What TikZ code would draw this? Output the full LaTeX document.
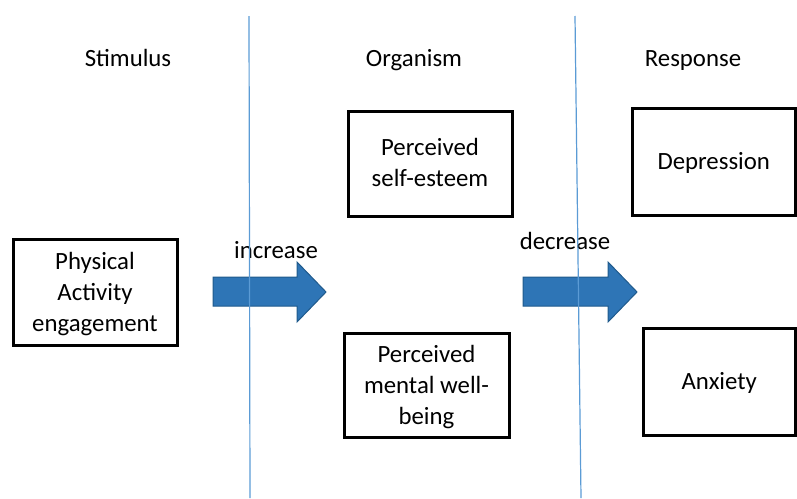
\documentclass[tikz,border=0pt]{standalone}
\usepackage{fontspec}
\setmainfont{Carlito}
\definecolor{lineblue}{HTML}{5B9BD5}
\definecolor{arrowfill}{HTML}{2E75B6}
\definecolor{arrowedge}{HTML}{1F5A8C}
\newcommand{\boxtext}[2][0pt]{\raisebox{-#1}[\height][\depth]{\begin{tabular}{@{}c@{}}#2\end{tabular}}}
\begin{document}
\begin{tikzpicture}[x=1pt,y=-1pt,
  every node/.style={font=\fontsize{24.8}{31}\selectfont, inner sep=0pt},
  box/.style={draw=black, line width=3pt},
  label/.style={anchor=base},
  blockarrow/.style={fill=arrowfill, draw=arrowedge, line width=1pt},
  divider/.style={draw=lineblue, line width=1.2pt}]
\useasboundingbox (0,0) rectangle (797,498);
% headers
\node[label] (stim) at (128,66.5) {Stimulus};
\node[label] (org) at (414,66.5) {Organism};
\node[label] (resp) at (693,66.5) {Response};
% boxes
\node[box, minimum width=164pt, minimum height=106pt] (pa) at (95,292) {\boxtext[2pt]{Physical\\Activity\\engagement}};
\node[box, minimum width=164pt, minimum height=105pt] (se) at (430,163.5) {\boxtext[1pt]{Perceived\\self-esteem}};
\node[box, minimum width=165pt, minimum height=104pt] (mw) at (426.5,385) {\boxtext[2.5pt]{Perceived\\mental well-\\being}};
\node[box, minimum width=163.5pt, minimum height=107pt] (dep) at (713.75,161.5) {\boxtext[1.5pt]{Depression}};
\node[box, minimum width=152.5pt, minimum height=107pt] (anx) at (719.25,381.5) {\boxtext[1.5pt]{Anxiety}};
% arrows
\draw[blockarrow] (213,277) -- (297,277) -- (297,262) -- (326,292) -- (297,322) -- (297,306) -- (213,306) -- cycle;
\draw[blockarrow] (523,277) -- (608,277) -- (608,262) -- (637,292) -- (608,322) -- (608,306) -- (523,306) -- cycle;
\node[label] (inc) at (276,258.5) {increase};
\node[label] (dec) at (565,249.5) {decrease};
% dividers
\coordinate (d1t) at (249,16);
\coordinate (d1b) at (250,498);
\coordinate (d2t) at (575,16);
\coordinate (d2b) at (581,498);
\draw[divider] (d1t) -- (d1b);
\draw[divider] (d2t) -- (d2b);
\end{tikzpicture}
\end{document}
